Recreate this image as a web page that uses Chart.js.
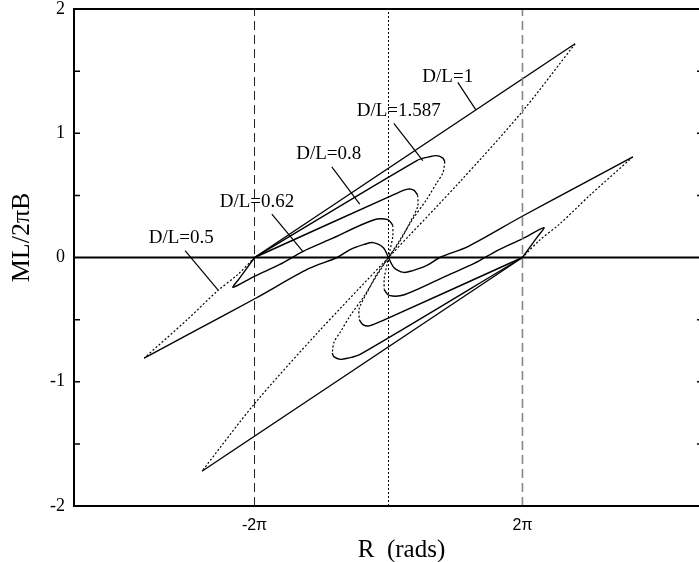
<!DOCTYPE html>
<html>
<head>
<meta charset="utf-8">
<script src="https://cdn.jsdelivr.net/npm/chart.js@4/dist/chart.umd.min.js"></script>
<style>
  html, body { margin: 0; padding: 0; background: #fff; overflow: hidden; }
  #wrap { width: 699px; height: 562px; overflow: hidden; }
</style>
</head>
<body>
<div id="wrap"><canvas id="myChart" width="720" height="562"></canvas></div>
<script>
// axis ranges and ticks (x in radians)
var xMin = -14.75, xMax = 14.75
var yMin = -2, yMax = 2
var xTickValues = [-6.2832, 6.2832]
var xTickLabels = ['-2\u03c0', '2\u03c0']
var yMinorTicks = [-1.5, -1, -0.5, 0.5, 1, 1.5]

// D/L = 1
var dl1Upper = [[-6.28, 0], [8.75, 1.72]]
var dl1Dotted = [[8.75, 1.72], [6.25, 1.17], [3.35, 0.61], [0, 0], [-3.35, -0.61], [-6.25, -1.17], [-8.75, -1.72]]
var dl1Lower = [[-8.75, -1.72], [6.28, 0]]

// D/L = 1.587
var dl1587Upper = [[-6.28, 0], [1.33, 0.78], [1.9, 0.81], [2.26, 0.82], [2.55, 0.80], [2.64, 0.77]]
var dl1587Dotted = [[2.64, 0.77], [2.55, 0.68], [2.26, 0.60], [1.80, 0.47], [1.14, 0.31], [0.53, 0.14], [0, 0],
  [-0.53, -0.14], [-1.14, -0.31], [-1.80, -0.47], [-2.26, -0.60], [-2.55, -0.68], [-2.64, -0.77]]
var dl1587Lower = [[-2.64, -0.77], [-2.55, -0.80], [-2.26, -0.82], [-1.9, -0.81], [-1.33, -0.78], [6.28, 0]]

// D/L = 0.8
var dl08Upper = [[-6.28, 0], [0.3, 0.51], [0.9, 0.55], [1.2, 0.54], [1.37, 0.50]]
var dl08Dotted = [[1.37, 0.50], [1.37, 0.41], [1.00, 0.28], [0.53, 0.13], [0, 0], [-0.53, -0.13], [-1.00, -0.28], [-1.37, -0.41], [-1.37, -0.50]]
var dl08Lower = [[-1.37, -0.50], [-1.2, -0.54], [-0.9, -0.55], [-0.3, -0.51], [6.28, 0]]

// D/L = 0.62
var dl062Upper = [[-6.28, 0], [-7.0, -0.17], [-7.29, -0.24], [-6.27, -0.15], [-5.10, -0.056], [-4.02, 0.048], [-2.75, 0.145],
  [-0.74, 0.30], [-0.03, 0.305], [0.2, 0.26]]
var dl062Dotted = [[0.2, 0.26], [0.2, 0.17], [0.06, 0.05], [0, 0], [-0.06, -0.05], [-0.2, -0.17], [-0.2, -0.26]]
var dl062Lower = [[-0.2, -0.26], [0.03, -0.305], [0.74, -0.30], [2.75, -0.145], [4.02, -0.048], [5.10, 0.056],
  [6.27, 0.15], [7.29, 0.24], [7.0, 0.17], [6.28, 0]]

// D/L = 0.5
var dl05DottedLeft = [[-6.28, 0], [-7.09, -0.14], [-8.03, -0.27], [-9.44, -0.50], [-11.46, -0.81]]
var dl05Solid = [[-11.46, -0.81], [-8.97, -0.58], [-6.25, -0.33], [-3.75, -0.09], [-2.41, 0], [-1.80, 0.064],
  [-1.14, 0.105], [-0.72, 0.12], [-0.25, 0.08], [0, 0], [0.25, -0.08], [0.72, -0.12], [1.14, -0.105],
  [1.80, -0.064], [2.41, 0], [3.75, 0.09], [6.25, 0.33], [8.97, 0.58], [11.46, 0.81]]
var dl05DottedRight = [[11.46, 0.81], [9.44, 0.50], [8.03, 0.27], [7.09, 0.14], [6.28, 0]]

// curve labels and their leader lines
var labelTexts = ['D/L=1', 'D/L=1.587', 'D/L=0.8', 'D/L=0.62', 'D/L=0.5']
var labelPos = [[2.78, 1.456], [0.48, 1.175], [-2.80, 0.83], [-6.17, 0.45], [-9.72, 0.153]]
var leaders = [
  [[3.25, 1.41], [4.09, 1.19]],
  [[0.25, 1.08], [1.61, 0.78]],
  [[-2.66, 0.73], [-1.35, 0.43]],
  [[-5.47, 0.35], [-4.02, 0.05]],
  [[-9.54, 0.056], [-8.00, -0.26]]
]

function pts(arr) {
  return arr.map(function (p) { return { x: p[0], y: p[1] } })
}
function solid(arr, tension) {
  return { data: pts(arr), showLine: true, pointRadius: 0, borderColor: '#000', borderWidth: 1.4, tension: tension || 0 }
}
function dotted(arr, tension) {
  return { data: pts(arr), showLine: true, pointRadius: 0, borderColor: '#000', borderWidth: 1.2, borderDash: [2, 2], tension: tension || 0 }
}

var datasets = [
  { data: pts([[xTickValues[0], yMin], [xTickValues[0], yMax]]), showLine: true, pointRadius: 0, borderColor: '#222', borderWidth: 1, borderDash: [9, 5] },
  { data: pts([[0, yMin], [0, yMax]]), showLine: true, pointRadius: 0, borderColor: '#000', borderWidth: 1, borderDash: [2, 2] },
  { data: pts([[xTickValues[1], yMin], [xTickValues[1], yMax]]), showLine: true, pointRadius: 0, borderColor: '#888', borderWidth: 1.6, borderDash: [9, 5] },
  { data: pts([[xMin, 0], [xMax, 0]]), showLine: true, pointRadius: 0, borderColor: '#000', borderWidth: 2 },
  solid(dl1Upper), dotted(dl1Dotted, 0.3), solid(dl1Lower),
  solid(dl1587Upper, 0.3), dotted(dl1587Dotted, 0.3), solid(dl1587Lower, 0.3),
  solid(dl08Upper, 0.3), dotted(dl08Dotted, 0.3), solid(dl08Lower, 0.3),
  solid(dl062Upper, 0.3), dotted(dl062Dotted, 0.3), solid(dl062Lower, 0.3),
  dotted(dl05DottedLeft, 0.3), solid(dl05Solid, 0.3), dotted(dl05DottedRight, 0.3)
]
leaders.forEach(function (l) {
  datasets.push({ data: pts(l), showLine: true, pointRadius: 0, borderColor: '#000', borderWidth: 1.2 })
})

var framePlugin = {
  id: 'frame',
  afterDatasetsDraw: function (chart) {
    var ctx = chart.ctx, a = chart.chartArea
    var x = chart.scales.x, y = chart.scales.y
    ctx.save()
    ctx.strokeStyle = '#000'
    ctx.lineWidth = 2
    ctx.strokeRect(a.left, a.top, a.right - a.left, a.bottom - a.top)
    ctx.lineWidth = 1.5
    yMinorTicks.forEach(function (v) {
      var py = y.getPixelForValue(v)
      ctx.beginPath()
      ctx.moveTo(a.left, py); ctx.lineTo(a.left + 6, py)
      ctx.moveTo(a.right, py); ctx.lineTo(a.right - 6, py)
      ctx.stroke()
    })
    ctx.fillStyle = '#000'
    ctx.font = '19px "Liberation Serif"'
    ctx.textAlign = 'center'
    ctx.textBaseline = 'middle'
    labelTexts.forEach(function (t, i) {
      ctx.fillText(t, x.getPixelForValue(labelPos[i][0]), y.getPixelForValue(labelPos[i][1]))
    })
    // axis titles
    ctx.font = '25px "Liberation Serif"'
    ctx.fillText('R  (rads)', (a.left + a.right) / 2 + 13, a.bottom + 44)
    ctx.font = '26px "Liberation Serif"'
    ctx.translate(a.left - 52, (a.top + a.bottom) / 2 - 20)
    ctx.rotate(-Math.PI / 2)
    ctx.fillText('ML/2\u03c0B', 0, 0)
    ctx.restore()
  }
}

var chart = new Chart(document.getElementById('myChart').getContext('2d'), {
  type: 'scatter',
  data: { datasets: datasets },
  options: {
    responsive: false,
    animation: false,
    layout: { padding: { top: 9, right: 17, left: 0, bottom: 0 } },
    plugins: { legend: { display: false }, tooltip: { enabled: false } },
    scales: {
      x: {
        min: xMin,
        max: xMax,
        afterBuildTicks: function (s) { s.ticks = xTickValues.map(function (v) { return { value: v } }) },
        afterFit: function (s) { s.height = 56; s.paddingLeft = 0; s.paddingRight = 0 },
        grid: { display: false, drawTicks: false },
        border: { display: false },
        ticks: {
          autoSkip: false, maxRotation: 0, color: '#000', padding: 10,
          font: { family: 'Liberation Sans', size: 16 },
          callback: function (v, i) { return xTickLabels[i] }
        }
      },
      y: {
        min: yMin,
        max: yMax,
        afterFit: function (s) { s.width = 74; s.paddingTop = 0; s.paddingBottom = 0 },
        grid: { display: false, drawTicks: false },
        border: { display: false },
        ticks: { stepSize: 1, color: '#000', padding: 9, font: { family: 'Liberation Serif', size: 18 } }
      }
    }
  },
  plugins: [framePlugin]
})
</script>
</body>
</html>
